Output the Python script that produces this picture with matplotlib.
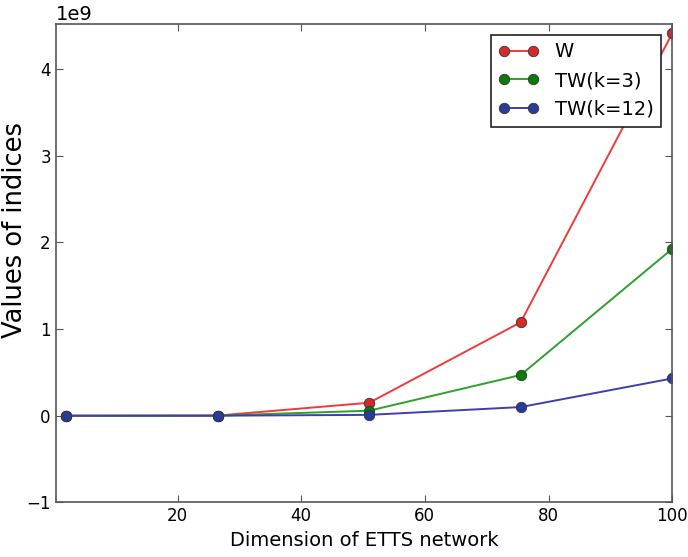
import matplotlib
matplotlib.use("Agg")
import matplotlib.pyplot as plt

x = [2, 26.5, 51, 75.5, 100]
w = [0.0, 0.002e9, 0.15e9, 1.078e9, 4.41e9]
tw3 = [0.0, 0.001e9, 0.058e9, 0.47e9, 1.925e9]
tw12 = [0.0, 0.0005e9, 0.01e9, 0.10e9, 0.43e9]
labels = ["W", "TW(k=3)", "TW(k=12)"]

fig = plt.figure(figsize=(6.88, 5.57), dpi=100)
ax = fig.add_axes([0.081, 0.098, 0.896, 0.859])

series = [
    (w, "#f03a3a", "#d42a2a"),
    (tw3, "#2ea02e", "#0a7a0a"),
    (tw12, "#3a40b0", "#2a3a9a"),
]
for (vals, lc, mc), lab in zip(series, labels):
    ax.plot(x, vals, "-", color=lc, lw=1.4, marker="o", markersize=7.5,
            markerfacecolor=mc, markeredgecolor="#333333", markeredgewidth=0.6,
            label=lab)

ax.set_xlim(0.3, 100)
ax.set_ylim(-1e9, 4.52e9)
ax.set_xticks([20, 40, 60, 80, 100])
ax.set_yticks([-1e9, 0, 1e9, 2e9, 3e9, 4e9])
ax.tick_params(direction="in", length=5, labelsize=12, top=True, right=True,
               color="#555555")
for s in ax.spines.values():
    s.set_color("#555555")
    s.set_linewidth(1.2)
ax.yaxis.get_offset_text().set_fontsize(14)
ax.set_xlabel("Dimension of ETTS network", fontsize=14)
ax.set_ylabel("Values of indices", fontsize=18.5)
ax.yaxis.set_label_coords(-0.045, 0.57)

leg = ax.legend(loc="upper right", fontsize=14, fancybox=False, numpoints=2,
                handlelength=2.1, borderaxespad=0.55)
leg.get_frame().set_edgecolor("#222222")
leg.get_frame().set_linewidth(1.2)
leg.get_frame().set_alpha(1)

fig.savefig("out.png", dpi=100)
